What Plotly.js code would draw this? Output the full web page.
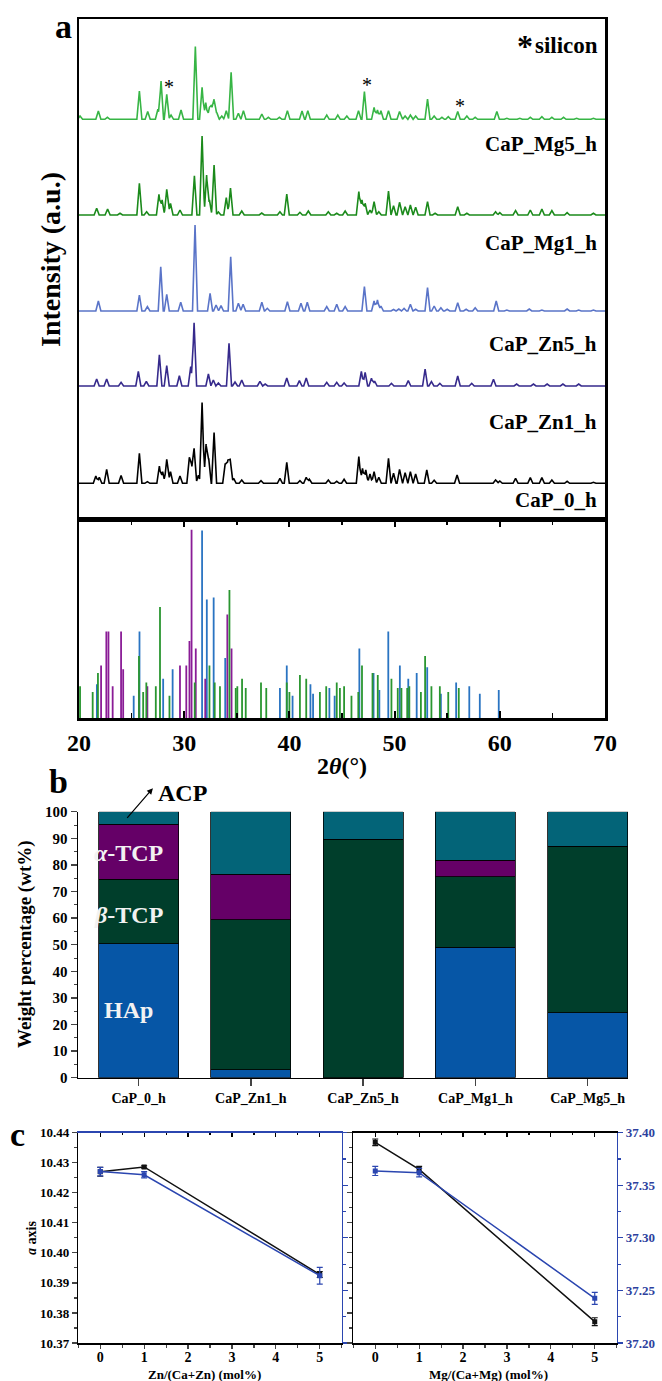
<!DOCTYPE html>
<html>
<head>
<meta charset="utf-8">
<script src="https://cdn.plot.ly/plotly-3.0.1.min.js"></script>
<style>html,body{margin:0;padding:0;background:#fff;}#chart{width:662px;height:1381px;}</style>
</head>
<body>
<div id="chart"></div>
<script>
// ---------------- Panel a: XRD patterns (peak positions, 2θ in °, and peak heights, a.u.) ----------------
const mg5Pos = [20.1,21.84,22.7,25.74,26.53,27.5,27.8,28.34,28.75,29.7,31.06,31.7,32.05,32.4,32.6,32.84,33.1,33.57,34.0,34.46,35.15,35.63,37.38,38.0,39.05,39.81,41.2,41.75,43.55,44.6,45.46,46.57,47.13,48.05,48.37,48.7,49.42,50.47,51.0,51.5,52.0,53.13,53.76,54.5,55.1,56.0,56.87,57.66,59.72,60.67,61.9,62.9,64.0,64.95,66.06,67.3,68.9];
const mg5Int = [3.3,8.3,2,28.3,7.7,10,38.3,25,4.3,9.3,72.7,32,16.7,12,14.3,20,6.7,3.3,8.7,47,6,8.7,5.3,2,2,8.7,8.3,8.7,4.3,4.3,3.3,8.7,27.7,12,9.3,8.7,8.7,7.7,3.3,4.3,3.3,20.3,3.3,2,2.7,7.7,3.3,2,7.7,1,1,2,2.7,2,2,1,1];

const mg1Pos = [21.68,22.72,23.9,25.74,26.43,27.6,27.9,28.34,28.7,29.6,30.97,31.7,32.13,32.4,32.84,33.25,34.0,34.4,35.47,37.37,39.1,39.75,41.0,41.8,43.7,44.5,45.3,46.6,46.9,47.2,47.66,48.05,48.5,49.42,49.9,50.47,51.0,51.5,52.0,53.13,53.85,56.0,56.87,59.6,60.0,61.5,62.9,64.0,64.95,66.4,68.9];
const mg1Int = [6.7,6,1.7,31.7,3.3,20.7,15,25.7,11.7,5,39.3,79,40,15,50,3,17.5,27,4,2,3.3,21,2.7,4,3.3,1.7,4,23.3,15,11.7,5,13.3,3.3,24,9.3,12.7,8.3,10,7.7,13.3,1.7,8.3,1.7,3.3,2.3,4.3,5,6,4.3,2.3,1.7];

const zn5Pos = [21.84,25.74,26.5,27.77,28.34,29.67,31.03,32.46,33.03,33.5,34.42,35.15,35.6,37.38,37.9,39.81,41.1,41.7,43.55,44.5,45.3,47.13,48.05,48.37,48.7,49.9,50.4,50.9,51.5,52.0,53.13,53.76,54.4,55.0,56.0,56.8,57.66,59.66,60.67,62.8,64.0,66.4,67.5,68.9];
const zn5Int = [10,16,4.3,44.3,16.7,8.7,86,17.7,6,5.3,54.3,7.7,6.7,8.7,2.7,9.3,7.7,8.7,4.3,6.7,4.3,24.3,10,11,5,1.5,2,2.5,6.7,1.7,23.3,5,3.3,1.7,8.3,1.7,3.3,10,1,2,1,2,1,1];

const zn1Pos = [21.68,22.63,24.0,25.64,26.4,27.64,28.34,29.54,30.62,30.94,32.3,32.77,33.25,34.26,34.83,35.47,37.2,37.7,39.75,40.95,41.6,43.55,44.5,45.2,46.84,47.2,47.8,48.1,49.7,51.3,52.9,53.5,54.3,56.0,57.33,59.4,61.6,63.2,64.5,66.0,67.5];
const zn1Int = [7,7,3.7,14.7,4.7,31.3,20.3,10.3,19.3,63.3,12,6,3,42.7,4,6,4.7,2,8,5.3,8,3.7,3.7,3,14.7,13.7,7.7,5,2.7,5.3,17,4.3,2.7,10,2.7,6.7,2,2,2,2,2];

const cap0Pos = [21.6,21.93,22.63,24.0,25.74,26.5,27.64,27.95,28.34,28.7,29.6,30.49,30.7,30.94,31.35,31.7,32.08,32.33,32.84,33.9,34.15,34.37,34.7,35.47,37.3,39.1,39.75,41.0,41.6,41.9,43.7,44.5,45.2,46.6,46.95,47.26,47.66,48.05,48.5,49.42,49.9,50.47,51.0,51.5,52.0,53.06,53.76,55.94,59.6,60.0,61.5,62.9,64.0,64.95,66.4,68.9];
const cap0Int = [7.3,6,14,7.7,30,1.7,17.3,11.7,24,11.7,7.3,26,19.3,35,8,80.7,39.3,25,50.7,20,23.3,24,5,3.3,2.7,5,21,2.7,6,4,3.3,2,4,26.7,15,13.3,9.3,11.7,6,25,10,14,10.7,11.7,9.3,13.3,3,8.3,3.3,2.3,5,5.7,5.7,3.3,2,1];

const sampleNames = ['CaP_Mg5_h','CaP_Mg1_h','CaP_Zn5_h','CaP_Zn1_h','CaP_0_h'];

// Reference patterns (stick positions 2θ and relative intensities)
const hapPos = [21.7,25.2,25.75,28.0,28.9,31.7,32.15,32.8,33.9,39.1,39.75,40.3,42.0,42.25,43.8,44.3,46.65,48.0,48.55,49.4,50.5,51.3,52.1,53.1,54.4,55.85,57.1,58.1,59.9];
const hapInt = [0.18,0.12,0.46,0.21,0.26,0.996,0.63,0.64,0.32,0.16,0.28,0.12,0.18,0.13,0.16,0.12,0.37,0.24,0.15,0.46,0.28,0.21,0.24,0.27,0.13,0.19,0.17,0.13,0.15];
const alphaPos = [22.1,22.6,22.8,23.2,24.0,24.2,25.7,26.5,29.6,30.2,30.5,30.7,31.1,32.0,34.1,34.5];
const alphaInt = [0.28,0.46,0.46,0.17,0.46,0.26,0.15,0.17,0.28,0.28,0.41,1.0,0.37,0.21,0.55,0.37];
const betaPos = [20.1,21.3,21.8,25.7,26.1,26.4,27.3,27.7,28.6,31.0,32.4,32.9,33.4,34.3,34.9,35.05,35.5,35.85,37.3,37.8,39.75,40.0,41.0,41.6,42.9,43.5,44.5,44.8,45.2,45.9,46.55,46.9,47.9,48.4,49.7,50.3,50.65,51.2,51.4,52.5,52.9,53.5,54.3,55.1,56.1];
const betaInt = [0.17,0.14,0.24,0.33,0.14,0.19,0.17,0.59,0.12,0.19,0.28,0.19,0.17,0.68,0.16,0.17,0.21,0.16,0.19,0.16,0.19,0.14,0.23,0.21,0.14,0.17,0.19,0.16,0.17,0.12,0.14,0.28,0.24,0.23,0.21,0.16,0.16,0.16,0.17,0.14,0.33,0.17,0.17,0.14,0.16];

// ---------------- Panel b: phase composition (wt%) ----------------
const phaseSamples = ['CaP_0_h','CaP_Zn1_h','CaP_Zn5_h','CaP_Mg1_h','CaP_Mg5_h'];
const hapWt   = [50.4, 2.9, 0, 49.1, 24.4];
const betaWt  = [24.3, 56.4, 89.7, 26.5, 62.6];
const alphaWt = [20.5, 17.1, 0, 6.2, 0];
const acpWt   = [4.8, 23.6, 10.3, 18.2, 13.0];

// ---------------- Panel c: lattice parameters ----------------
const dopant = [0, 1, 5];
const aZn = [10.427, 10.4286, 10.3928];   const aZnErr = [0.0015, 0.0004, 0.001];
const cZn = [37.363, 37.360, 37.264];     const cZnErr = [0.004, 0.003, 0.008];
const aMg = [10.4368, 10.4278, 10.3771];  const aMgErr = [0.0011, 0.001, 0.0013];
const cMg = [37.3636, 37.362, 37.2425];   const cMgErr = [0.0043, 0.004, 0.0057];

// ---------------- layout helpers ----------------
const W = 662, H = 1381;
const F = 'Liberation Serif, Times New Roman, serif';
const px = v => v / W, py = v => 1 - v / H;
const BLUE = '#2b46b0';

const patternColors = ['#37b545','#1b8a1b','#5a74c8','#362a8c','#000000'];
const patternOffsets = [400.2, 304.5, 208.5, 133.5, 36.2];
const peakHalfWidth = 0.24;

function buildPattern(pos, inten, offset) {
  const xs = [20, 70];
  pos.forEach(p => xs.push(p - peakHalfWidth, p, p + peakHalfWidth));
  xs.sort((a, b) => a - b);
  const ys = xs.map(x => {
    let m = 0;
    pos.forEach((p, i) => { const v = inten[i] * (1 - Math.abs(x - p) / peakHalfWidth); if (v > m) m = v; });
    return m + offset;
  });
  return {x: xs, y: ys};
}
function sticks(pos, h) {
  const x = [], y = [];
  pos.forEach((p, i) => { x.push(p, p, null); y.push(0, h[i], null); });
  return {x, y};
}

const traces = [];
const patterns = [[mg5Pos, mg5Int],[mg1Pos, mg1Int],[zn5Pos, zn5Int],[zn1Pos, zn1Int],[cap0Pos, cap0Int]];
patterns.forEach((pr, k) => {
  const d = buildPattern(pr[0], pr[1], patternOffsets[k]);
  traces.push({type:'scatter', mode:'lines', x:d.x, y:d.y, xaxis:'x2', yaxis:'y',
    line:{color:patternColors[k], width:1.6}, name:sampleNames[k], hoverinfo:'skip'});
});
[[hapPos, hapInt, '#2a74c2'], [alphaPos, alphaInt, '#8a1c96'], [betaPos, betaInt, '#2a9630']].forEach(s => {
  const d = sticks(s[0], s[1]);
  traces.push({type:'scatter', mode:'lines', x:d.x, y:d.y, xaxis:'x', yaxis:'y2',
    line:{color:s[2], width:1.8}, hoverinfo:'skip'});
});

// Panel b bars
[[hapWt,'#0656a6','HAp'],[betaWt,'#003e2b','β-TCP'],[alphaWt,'#650067','α-TCP'],[acpWt,'#036478','ACP']].forEach(b => {
  traces.push({type:'bar', x:phaseSamples, y:b[0], name:b[2], xaxis:'x3', yaxis:'y3',
    marker:{color:b[1], line:{color:'#000', width:0.8}}, hoverinfo:'skip'});
});

// Panel c
function lat(x, y, err, xa, ya, color) {
  return {type:'scatter', mode:'lines+markers', x:x, y:y, xaxis:xa, yaxis:ya,
    line:{color:color, width:1.5}, marker:{symbol:'square', size:5, color:color},
    error_y:{type:'data', array:err, visible:true, color:color, thickness:1.2, width:3}, hoverinfo:'skip'};
}
traces.push(lat(dopant, cZn, cZnErr, 'x4', 'y5', BLUE));
traces.push(lat(dopant, aZn, aZnErr, 'x4', 'y4', '#111'));
traces.push(lat(dopant, cMg, cMgErr, 'x5', 'y7', BLUE));
traces.push(lat(dopant, aMg, aMgErr, 'x5', 'y6', '#111'));
// invisible helpers so the top mirror axes are drawn
traces.push({type:'scatter', mode:'markers', x:[null], y:[null], xaxis:'x6', yaxis:'y4', hoverinfo:'skip'});
traces.push({type:'scatter', mode:'markers', x:[null], y:[null], xaxis:'x7', yaxis:'y6', hoverinfo:'skip'});

const noGrid = {showgrid:false, zeroline:false};
const aDomX = [px(79), px(605)];
const cLeftX = [px(78.3), px(341.7)], cRightX = [px(353.3), px(616.7)];
const cDomY = [py(1343), py(1132.7)];
const tfc = (s, c) => ({family:F, size:s, color:c || '#000', weight:'bold'});

const layout = {
  width:W, height:H, margin:{l:0, r:0, t:0, b:0}, showlegend:false,
  paper_bgcolor:'#ffffff', plot_bgcolor:'rgba(0,0,0,0)',
  font:{family:F, color:'#000'}, barmode:'stack', bargap:0.287,
  // panel a lower (reference sticks) with the 2θ axis
  xaxis: Object.assign({domain:aDomX, anchor:'y2', range:[20,70], dtick:10, tick0:20,
    ticks:'inside', ticklen:7, tickwidth:2, tickcolor:'#000', mirror:'allticks', showline:true, linewidth:2.5, linecolor:'#000',
    tickfont:tfc(24), ticklabelstandoff:1,
    minor:{dtick:5, tick0:20, ticks:'inside', ticklen:5, tickwidth:1.5, tickcolor:'#000'}}, noGrid),
  yaxis2: Object.assign({domain:[py(718.3), py(519.5)], anchor:'x', range:[0,1.054],
    showline:true, mirror:true, linewidth:2.5, linecolor:'#000', showticklabels:false, ticks:''}, noGrid),
  // panel a upper (patterns)
  xaxis2: Object.assign({domain:aDomX, anchor:'y', range:[20,70], showticklabels:false, ticks:'',
    showline:true, mirror:true, linewidth:2.5, linecolor:'#000'}, noGrid),
  yaxis: Object.assign({domain:[py(519.5), py(19)], anchor:'x2', range:[0,500.5], showticklabels:false, ticks:'',
    showline:true, mirror:true, linewidth:2.5, linecolor:'#000'}, noGrid),
  // panel b
  xaxis3: Object.assign({domain:[px(78), px(628)], anchor:'y3', type:'category', range:[-0.54, 4.36],
    ticks:'outside', ticklen:7, tickwidth:1.5, showline:true, linewidth:1.5, linecolor:'#000', tickfont:tfc(14)}, noGrid),
  yaxis3: Object.assign({domain:[py(1077.7), py(811.7)], anchor:'x3', range:[0,100], dtick:10,
    ticks:'outside', ticklen:6, tickwidth:1.5, showline:true, linewidth:1.5, linecolor:'#000', tickfont:tfc(15),
    minor:{dtick:5, ticks:'outside', ticklen:3, tickwidth:1}}, noGrid),
  // panel c left
  xaxis4: Object.assign({domain:cLeftX, anchor:'y4', range:[-0.5,5.5], dtick:1, tick0:0,
    ticks:'outside', ticklen:4, tickwidth:1.2, showline:true, linewidth:1.5, linecolor:'#000', tickfont:tfc(14), ticklabelstandoff:-3,
    minor:{dtick:0.5, tick0:0, ticks:'outside', ticklen:3}}, noGrid),
  yaxis4: Object.assign({domain:cDomY, anchor:'x4', range:[10.37,10.44], dtick:0.01, tick0:10.37, tickformat:'.2f',
    ticks:'outside', ticklen:5, tickwidth:1.2, showline:true, linewidth:1.5, linecolor:'#000', tickfont:tfc(13),
    minor:{dtick:0.005, ticks:'outside', ticklen:3}}, noGrid),
  yaxis5: Object.assign({overlaying:'y4', side:'right', anchor:'x4', range:[37.2,37.4], dtick:0.05, tick0:37.2,
    ticks:'outside', ticklen:5, tickwidth:1.2, tickcolor:BLUE, showline:true, linewidth:1.5, linecolor:BLUE, showticklabels:false,
    minor:{dtick:0.025, ticks:'outside', ticklen:3, tickcolor:BLUE}}, noGrid),
  xaxis6: Object.assign({overlaying:'x4', side:'top', anchor:'y4', range:[-0.5,5.5], dtick:1, tick0:0,
    ticks:'inside', ticklen:4, tickwidth:1.2, tickcolor:'#000', showline:true, linewidth:1.5, linecolor:BLUE, showticklabels:false,
    minor:{dtick:0.5, tick0:0, ticks:'inside', ticklen:2}}, noGrid),
  // panel c right
  xaxis5: Object.assign({domain:cRightX, anchor:'y6', range:[-0.5,5.5], dtick:1, tick0:0,
    ticks:'outside', ticklen:4, tickwidth:1.2, showline:true, linewidth:1.5, linecolor:'#000', tickfont:tfc(14), ticklabelstandoff:-3,
    minor:{dtick:0.5, tick0:0, ticks:'outside', ticklen:3}}, noGrid),
  yaxis6: Object.assign({domain:cDomY, anchor:'x5', range:[10.37,10.44], dtick:0.01, tick0:10.37,
    ticks:'outside', ticklen:5, tickwidth:1.2, showline:true, linewidth:1.5, linecolor:'#000', showticklabels:false,
    minor:{dtick:0.005, ticks:'outside', ticklen:3}}, noGrid),
  yaxis7: Object.assign({overlaying:'y6', side:'right', anchor:'x5', range:[37.2,37.4], dtick:0.05, tick0:37.2, tickformat:'.2f',
    ticks:'outside', ticklen:5, tickwidth:1.2, tickcolor:BLUE, showline:true, linewidth:1.5, linecolor:BLUE, tickfont:tfc(13, '#2d3f9e'),
    minor:{dtick:0.025, ticks:'outside', ticklen:3, tickcolor:BLUE}}, noGrid),
  xaxis7: Object.assign({overlaying:'x5', side:'top', anchor:'y6', range:[-0.5,5.5], dtick:1, tick0:0,
    ticks:'inside', ticklen:4, tickwidth:1.2, tickcolor:'#000', showline:true, linewidth:1.5, linecolor:'#000', showticklabels:false,
    minor:{dtick:0.5, tick0:0, ticks:'inside', ticklen:2}}, noGrid),
  annotations: []
};

function note(text, x, y, size, opts) {
  layout.annotations.push(Object.assign({text:text, x:px(x), y:py(y), xref:'paper', yref:'paper',
    showarrow:false, xanchor:'center', yanchor:'middle', font:{family:F, size:size, color:'#000'}}, opts || {}));
}
// panel a
note('<b>a</b>', 63, 27, 34);
note('<b>*</b>', 525, 46, 32);
note('<b>silicon</b>', 600, 46, 23, {xanchor:'right'});
const labelY = [144, 243, 344, 421.7, 500];
sampleNames.forEach((n, k) => note('<b>' + n + '</b>', 599, labelY[k], 21, {xanchor:'right'}));
note('<b>Intensity (a.u.)</b>', 50, 260, 28, {textangle:-90});
note('<b>2<i>θ</i>(°)</b>', 342, 766, 24);
// silicon reflections
const siPos = [28.45, 47.2, 56.05], siY = [432.5, 434.5, 413.5];
siPos.forEach((p, i) => layout.annotations.push({text:'*', x:p + 0.15, y:siY[i], xref:'x2', yref:'y', showarrow:false,
  font:{family:F, size:20, color:'#000'}}));
// panel b
note('<b>b</b>', 59, 781, 34);
note('<b>ACP</b>', 182, 793, 24);
layout.annotations.push({text:'', x:px(152.9), y:py(788.3), xref:'paper', yref:'paper', showarrow:true,
  ax:-27, ay:31, arrowhead:2, arrowsize:1, arrowwidth:1.2, arrowcolor:'#000'});
note('<b><i>α</i>-TCP</b>', 128, 853, 24, {font:{family:F, size:24, color:'#f2f2f2'}});
note('<b><i>β</i>-TCP</b>', 128, 915, 24, {font:{family:F, size:24, color:'#f2f2f2'}});
note('<b>HAp</b>', 128, 1010, 24, {font:{family:F, size:24, color:'#f2f2f2'}});
note('<b>Weight percentage (wt%)</b>', 25, 944, 19, {textangle:-90});
// panel c
note('<b>c</b>', 17, 1134, 34);
note('<b><i>a</i> axis</b>', 31, 1238, 14, {textangle:-90});
note('<b><i>c</i> axis</b>', 668, 1238, 14, {textangle:-90});
note('<b>Zn/(Ca+Zn) (mol%)</b>', 204, 1374, 13);
note('<b>Mg/(Ca+Mg) (mol%)</b>', 488, 1374, 13);

Plotly.newPlot('chart', traces, layout, {staticPlot:true, displayModeBar:false});
</script>
</body>
</html>
